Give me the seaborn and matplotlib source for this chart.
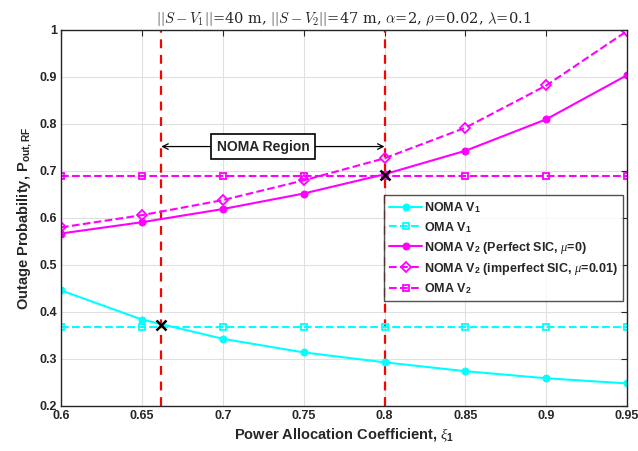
import numpy as np
import pandas as pd
import matplotlib
matplotlib.use("Agg")
import matplotlib.pyplot as plt
import seaborn as sns

# values
xi = [0.6, 0.65, 0.7, 0.75, 0.8, 0.85, 0.9, 0.95]
noma_v1 = [0.446, 0.384, 0.343, 0.314, 0.293, 0.274, 0.259, 0.248]
oma_v1 = [0.368] * 8
noma_v2_perfect = [0.567, 0.591, 0.619, 0.652, 0.693, 0.743, 0.810, 0.904]
noma_v2_imperfect = [0.580, 0.606, 0.638, 0.680, 0.727, 0.792, 0.882, 0.998]
oma_v2 = [0.690] * 8

cross_x = [0.662, 0.8]
cross_y = [0.372, 0.692]

sns.set_style("whitegrid")
plt.rcParams['font.family'] = ['Liberation Sans', 'DejaVu Sans']
plt.rcParams['mathtext.fontset'] = 'custom'
plt.rcParams['mathtext.rm'] = 'Liberation Sans:bold'
plt.rcParams['mathtext.bf'] = 'Liberation Sans:bold'
plt.rcParams['mathtext.it'] = 'Liberation Serif:italic'

fig = plt.figure(figsize=(6.38, 4.51), dpi=100)
ax = fig.add_axes([0.0956, 0.0998, 0.8874, 0.8337])

cyan = '#00ffff'
mag = '#ff00ff'
lw = 1.5

sns.lineplot(x=xi, y=noma_v1, ax=ax, color=cyan, lw=lw, marker='o', ms=5,
             mec=cyan, label='NOMA V$_\\mathrm{1}$')
sns.lineplot(x=xi, y=oma_v1, ax=ax, color=cyan, lw=lw, ls='--', marker='s', ms=5,
             mfc='none', mec=cyan, mew=1.3, label='OMA V$_\\mathrm{1}$')
sns.lineplot(x=xi, y=noma_v2_perfect, ax=ax, color=mag, lw=lw, marker='o', ms=5,
             mec=mag, label='NOMA V$_\\mathrm{2}$ (Perfect SIC, $\\mu$=0)')
sns.lineplot(x=xi, y=noma_v2_imperfect, ax=ax, color=mag, lw=lw, ls='--', marker='D', ms=5,
             mfc='none', mec=mag, mew=1.3, label='NOMA V$_\\mathrm{2}$ (imperfect SIC, $\\mu$=0.01)')
sns.lineplot(x=xi, y=oma_v2, ax=ax, color=mag, lw=lw, ls='--', marker='s', ms=5,
             mfc='none', mec=mag, mew=1.3, label='OMA V$_\\mathrm{2}$')

# NOMA region boundaries
for cx in cross_x:
    ax.axvline(cx, color='red', ls='--', lw=1.6, dashes=(4, 3), zorder=1)
ax.plot(cross_x, cross_y, 'x', color='black', ms=7, mew=1.8, zorder=5)

# region annotation: arrows from the box out to the two boundaries
for cx in cross_x:
    ax.annotate('', xy=(cx, 0.752), xytext=(0.725, 0.752), zorder=3,
                arrowprops=dict(arrowstyle='->', color='black', lw=0.9,
                                shrinkA=0, shrinkB=0))
ax.text(0.725, 0.752, 'NOMA Region', ha='center', va='center', fontsize=10,
        fontweight='bold', zorder=4,
        bbox=dict(boxstyle='square,pad=0.4', fc='white', ec='black', lw=1.2))

ax.set_xlim(0.6, 0.95)
ax.set_ylim(0.2, 1.0)
ax.set_xticks(xi)
ax.set_xticklabels(['0.6', '0.65', '0.7', '0.75', '0.8', '0.85', '0.9', '0.95'])
ax.set_yticks([0.2, 0.3, 0.4, 0.5, 0.6, 0.7, 0.8, 0.9, 1.0])
ax.set_yticklabels(['0.2', '0.3', '0.4', '0.5', '0.6', '0.7', '0.8', '0.9', '1'])
for lab in ax.get_xticklabels() + ax.get_yticklabels():
    lab.set_fontweight('bold')
    lab.set_fontsize(9)

ax.grid(True, color='#e0e0e0', lw=0.8)
ax.tick_params(direction='in', length=4, top=True, right=True, color='#262626',
               pad=3)
for s in ax.spines.values():
    s.set_visible(True)
    s.set_color('#262626')
    s.set_linewidth(1.0)

ax.set_xlabel('Power Allocation Coefficient, $\\xi_\\mathrm{1}$', fontsize=10.5,
              fontweight='bold', labelpad=3)
ax.set_ylabel('Outage Probability, P$_\\mathrm{out,RF}$', fontsize=10.5,
              fontweight='bold', labelpad=4)
ax.set_title('$||S-V_1||$=40 m, $||S-V_2||$=47 m, $\\alpha$=2, $\\rho$=0.02, $\\lambda$=0.1',
             fontsize=10.5, family='serif', math_fontfamily='cm', pad=5)

leg = ax.legend(loc='upper left', bbox_to_anchor=(0.571, 0.561), fontsize=9,
                frameon=True, fancybox=False, edgecolor='#262626',
                handlelength=2.6, borderpad=0.4, labelspacing=0.4,
                handletextpad=0.2, borderaxespad=0)
leg.get_frame().set_linewidth(1.0)
for t in leg.get_texts():
    t.set_fontweight('bold')

fig.savefig('out.png', dpi=100)
